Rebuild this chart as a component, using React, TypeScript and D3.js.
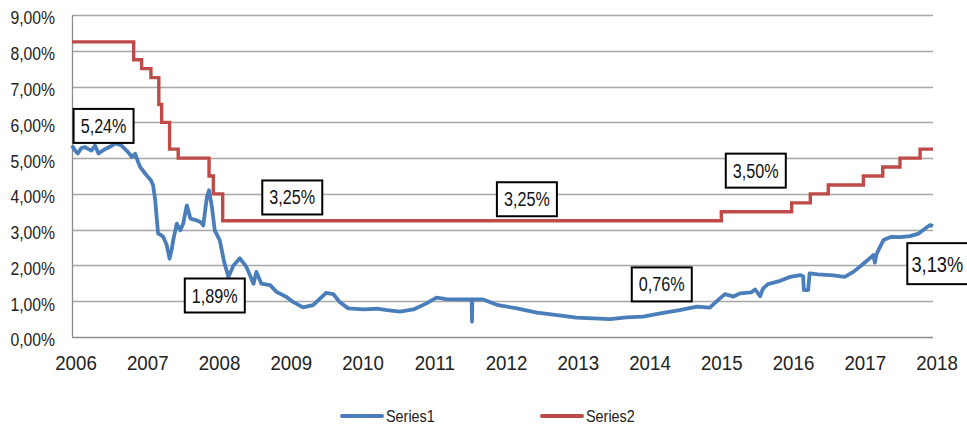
import * as d3 from "d3";
import { useEffect, useRef } from "react";

// values
const yTicks = [0, 1, 2, 3, 4, 5, 6, 7, 8, 9];
const xTicks = [2006, 2007, 2008, 2009, 2010, 2011, 2012, 2013, 2014, 2015, 2016, 2017, 2018];

const s1Dates = [
  2006.0, 2006.04, 2006.08, 2006.13, 2006.18, 2006.23, 2006.27, 2006.32, 2006.37, 2006.42,
  2006.48, 2006.54, 2006.6, 2006.65, 2006.69, 2006.76, 2006.8, 2006.83, 2006.88, 2006.92,
  2006.95, 2007.02, 2007.06, 2007.1, 2007.13, 2007.16, 2007.18, 2007.2, 2007.24, 2007.27,
  2007.32, 2007.36, 2007.39, 2007.41, 2007.46, 2007.51, 2007.55, 2007.6, 2007.65, 2007.74,
  2007.8, 2007.83, 2007.88, 2007.91, 2007.95, 2007.99, 2008.06, 2008.12, 2008.18, 2008.25,
  2008.34, 2008.43, 2008.53, 2008.57, 2008.64, 2008.76, 2008.85, 2008.99, 2009.08, 2009.22,
  2009.36, 2009.46, 2009.54, 2009.64, 2009.73, 2009.85, 2010.06, 2010.25, 2010.39, 2010.57,
  2010.76, 2010.94, 2011.08, 2011.22, 2011.41, 2011.57, 2011.575, 2011.58, 2011.73, 2011.94,
  2012.2, 2012.48, 2012.76, 2013.03, 2013.27, 2013.5, 2013.73, 2013.96, 2014.2, 2014.47,
  2014.71, 2014.89, 2014.98, 2015.1, 2015.22, 2015.31, 2015.47, 2015.52, 2015.59, 2015.63,
  2015.7, 2015.87, 2016.01, 2016.15, 2016.19, 2016.2, 2016.26, 2016.28, 2016.4, 2016.61,
  2016.77, 2016.89, 2017.03, 2017.17, 2017.19, 2017.21, 2017.24, 2017.31, 2017.42, 2017.54,
  2017.68, 2017.8, 2017.91, 2017.96, 2018.0,
];
const s1Values = [
  5.35, 5.22, 5.13, 5.28, 5.31, 5.25, 5.21, 5.35, 5.13, 5.2,
  5.27, 5.33, 5.41, 5.38, 5.35, 5.21, 5.12, 5.03, 5.12, 4.9,
  4.75, 4.57, 4.47, 4.38, 4.24, 3.82, 3.35, 2.89, 2.85, 2.8,
  2.57, 2.19, 2.45, 2.7, 3.17, 2.98, 3.17, 3.68, 3.31, 3.26,
  3.2, 3.12, 3.91, 4.1, 3.63, 2.98, 2.7, 2.1, 1.68, 2.0,
  2.2, 1.96, 1.49, 1.82, 1.49, 1.45, 1.26, 1.12, 0.98, 0.83,
  0.89, 1.08, 1.23, 1.2, 0.98, 0.8, 0.77, 0.79, 0.75, 0.71,
  0.77, 0.94, 1.1, 1.06, 1.05, 1.05, 0.43, 1.05, 1.05, 0.89,
  0.8, 0.68, 0.61, 0.54, 0.52, 0.5, 0.55, 0.57, 0.66, 0.75,
  0.85, 0.82, 0.99, 1.2, 1.13, 1.22, 1.25, 1.33, 1.14, 1.35,
  1.48, 1.57, 1.68, 1.73, 1.7, 1.31, 1.31, 1.78, 1.75, 1.72,
  1.68, 1.82, 2.05, 2.29, 2.08, 2.3, 2.43, 2.71, 2.8, 2.79,
  2.82, 2.89, 3.06, 3.13, 3.1,
];

const s2Dates = [
  2006.0, 2006.86, 2006.97, 2007.1, 2007.21, 2007.25, 2007.36, 2007.48, 2007.91, 2007.97,
  2008.1, 2015.05, 2016.03, 2016.29, 2016.54, 2017.03, 2017.3, 2017.54, 2017.82, 2018.0,
];
const s2Values = [
  8.25, 7.75, 7.5, 7.25, 6.5, 6.0, 5.25, 5.0, 4.5, 4.0,
  3.25, 3.5, 3.75, 4.0, 4.25, 4.5, 4.75, 5.0, 5.25, 5.25,
];

// data labels: text, anchor date and value of the label centre
const labelTexts = ["5,24%", "1,89%", "3,25%", "3,25%", "3,50%", "0,76%", "3,13%"];
const labelDates = [2006.44, 2007.99, 2009.07, 2012.34, 2015.53, 2014.22, 2018.06];
const labelValues = [5.9, 1.16, 3.9, 3.85, 4.65, 1.47, 2.05];

const seriesNames = ["Series1", "Series2"];
const seriesColors = ["#4a7ebb", "#be4b48"];

const App = () => {
  const svgRef = useRef(null);
  const width = 967;
  const height = 430;

  useEffect(() => {
    const svg = d3.select(svgRef.current);
    svg.selectAll("*").remove();

    const margin = { top: 15, right: 34, bottom: 93, left: 72 };
    const x = d3.scaleLinear().domain([2006, 2018]).range([margin.left, width - margin.right]);
    const y = d3.scaleLinear().domain([0, 9]).range([height - margin.bottom, margin.top]);

    // no narrow font installed: squeeze Liberation Sans horizontally
    const tickFont = "'Liberation Sans', Arial, sans-serif";
    const squeeze = 0.85;

    // gridlines
    svg
      .append("g")
      .selectAll("line")
      .data(yTicks.slice(1))
      .join("line")
      .attr("x1", margin.left)
      .attr("x2", width - margin.right)
      .attr("y1", (d) => Math.round(y(d)) + 0.5)
      .attr("y2", (d) => Math.round(y(d)) + 0.5)
      .attr("stroke", "#a6a6a6")
      .attr("stroke-width", 1.3);

    // axes lines
    svg
      .append("line")
      .attr("x1", margin.left + 0.5)
      .attr("x2", margin.left + 0.5)
      .attr("y1", y(9))
      .attr("y2", y(0))
      .attr("stroke", "#8c8c8c")
      .attr("stroke-width", 1.3);
    svg
      .append("line")
      .attr("x1", margin.left)
      .attr("x2", width - margin.right)
      .attr("y1", Math.round(y(0)) + 0.5)
      .attr("y2", Math.round(y(0)) + 0.5)
      .attr("stroke", "#8c8c8c")
      .attr("stroke-width", 1.3);

    // y tick labels
    svg
      .append("g")
      .selectAll("text")
      .data(yTicks)
      .join("text")
      .attr("transform", (d) => `translate(55,${y(d) + 3}) scale(${squeeze},1)`)
      .attr("dy", "0.35em")
      .attr("text-anchor", "end")
      .attr("font-family", tickFont)
      .attr("font-size", 18.5)
      .attr("fill", "#222")
      .text((d) => d3.format(".2f")(d).replace(".", ",") + "%");

    // x tick labels
    svg
      .append("g")
      .selectAll("text")
      .data(xTicks)
      .join("text")
      .attr("transform", (d) => `translate(${x(d) + 4},370) scale(0.89,1)`)
      .attr("text-anchor", "middle")
      .attr("font-family", tickFont)
      .attr("font-size", 21)
      .attr("fill", "#222")
      .text((d) => String(d));

    const line1 = d3
      .line<number>()
      .x((d, i) => x(s1Dates[i]))
      .y((d) => y(d))
      .curve(d3.curveLinear);
    const line2 = d3
      .line<number>()
      .x((d, i) => x(s2Dates[i]))
      .y((d) => y(d))
      .curve(d3.curveStepAfter);

    svg
      .append("path")
      .datum(s1Values)
      .attr("fill", "none")
      .attr("stroke", seriesColors[0])
      .attr("stroke-width", 3.8)
      .attr("stroke-linejoin", "round")
      .attr("d", line1 as any);

    svg
      .append("path")
      .datum(s2Values)
      .attr("fill", "none")
      .attr("stroke", seriesColors[1])
      .attr("stroke-width", 3.4)
      .attr("d", line2 as any);

    // data labels
    const boxW = 60;
    const boxH = 34;
    const labels = svg
      .append("g")
      .selectAll("g")
      .data(labelTexts)
      .join("g")
      .attr("transform", (d, i) => `translate(${x(labelDates[i])},${y(labelValues[i])})`);
    labels
      .append("rect")
      .attr("x", (d, i) => (i === 6 ? -30 : -boxW / 2))
      .attr("y", (d, i) => (i === 6 ? -20.5 : -boxH / 2))
      .attr("width", (d, i) => (i === 6 ? 64 : boxW))
      .attr("height", (d, i) => (i === 6 ? 41 : boxH))
      .attr("fill", "#fff")
      .attr("stroke", "#000")
      .attr("stroke-width", 2);
    labels
      .append("text")
      .attr("transform", `scale(0.83,1)`)
      .attr("text-anchor", "middle")
      .attr("dy", "0.36em")
      .attr("font-family", tickFont)
      .attr("font-size", (d, i) => (i === 6 ? 22 : 19.5))
      .attr("fill", "#111")
      .text((d) => d);

    // legend
    const legend = svg
      .append("g")
      .selectAll("g")
      .data(seriesNames)
      .join("g")
      .attr("transform", (d, i) => `translate(${342 + i * 200},416)`);
    legend
      .append("line")
      .attr("x1", 0)
      .attr("x2", 40)
      .attr("stroke", (d, i) => seriesColors[i])
      .attr("stroke-width", 4)
      .attr("stroke-linecap", "round");
    legend
      .append("text")
      .attr("transform", "translate(44,0) scale(0.9,1)")
      .attr("dy", "0.35em")
      .attr("font-family", tickFont)
      .attr("font-size", 16)
      .attr("fill", "#222")
      .text((d) => d);
  }, []);

  return (
    <>
      <style>{"body{margin:0;overflow:hidden}"}</style>
      <svg width={width} height={height} ref={svgRef} style={{ display: "block", background: "#fff" }} />
    </>
  );
};

export default App;
